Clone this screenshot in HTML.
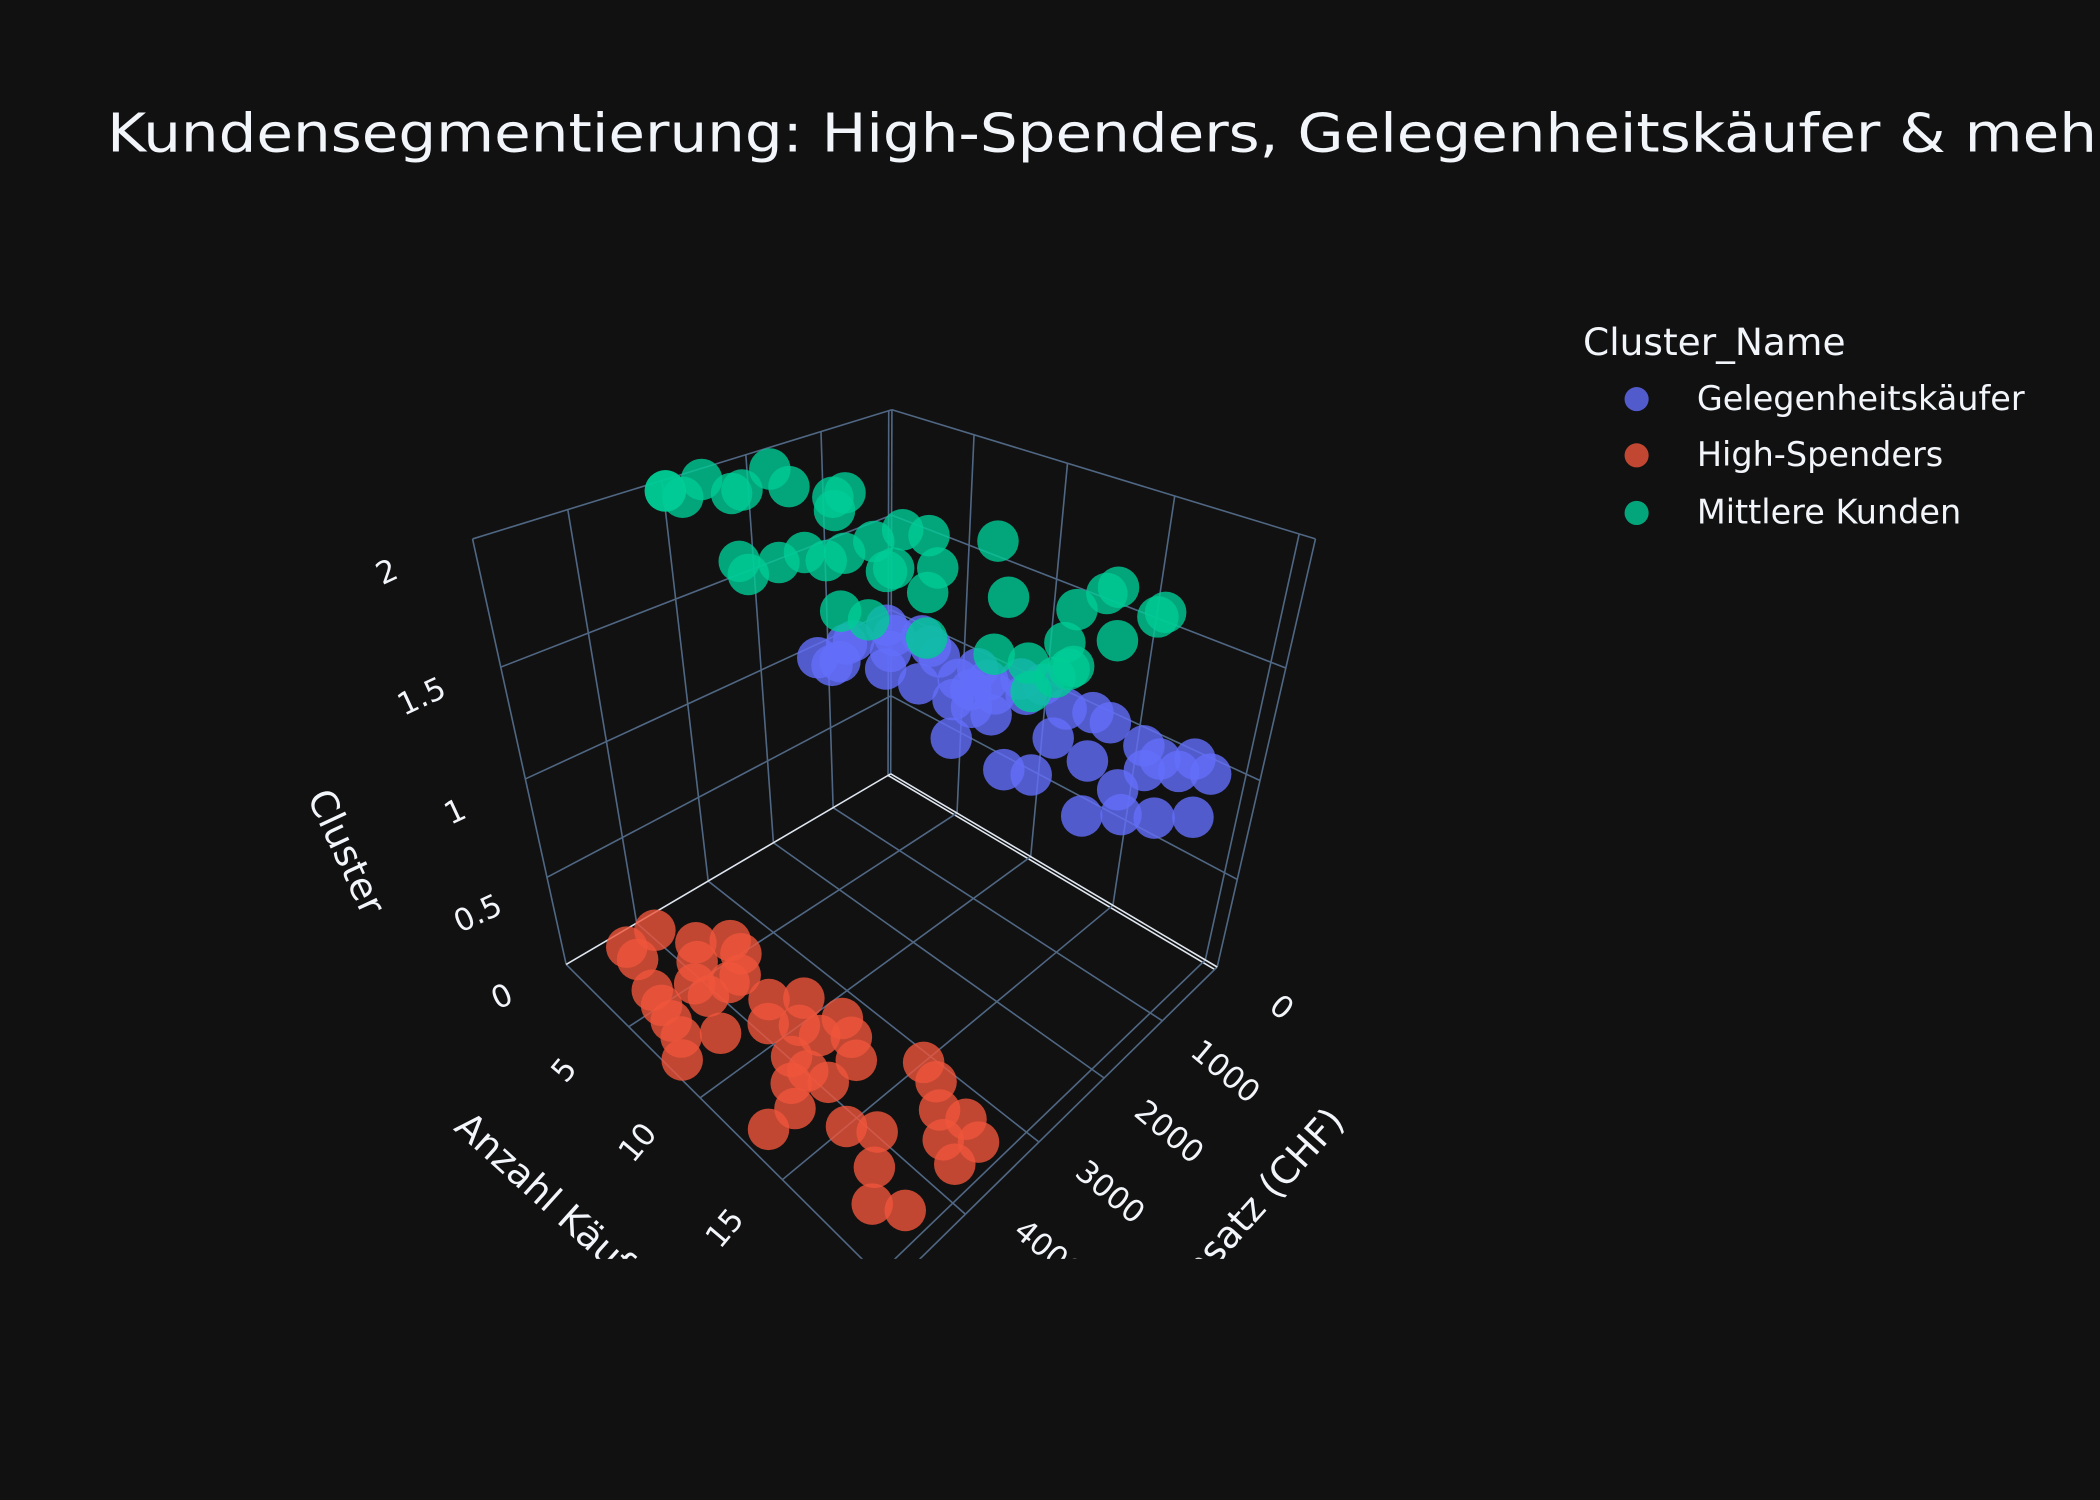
<!DOCTYPE html>
<html><head><meta charset="utf-8">
<style>
html,body{margin:0;padding:0;background:#111111;}
svg{display:block;}
text{font-family:"DejaVu Sans","Liberation Sans",sans-serif;fill:#f2f5fa;}
</style></head>
<body>
<svg id="chart" width="2100" height="1500" viewBox="0 0 1568 1120" preserveAspectRatio="none" xmlns="http://www.w3.org/2000/svg">
<rect x="0" y="0" width="1568" height="1120" fill="#111111"/>
<defs><clipPath id="sceneClip"><rect x="0" y="140" width="1160" height="800"/></clipPath></defs>
<text x="80" y="113" font-size="40" textLength="1504" lengthAdjust="spacingAndGlyphs">Kundensegmentierung: High-Spenders, Gelegenheitskäufer &amp; mehr</text>
<g id="scene" clip-path="url(#sceneClip)">
<g id="grid"></g>
<g id="points"></g>
<g font-size="23">
<text transform="translate(292,434) rotate(-25)" text-anchor="middle">2</text>
<text transform="translate(318,527) rotate(-25)" text-anchor="middle">1.5</text>
<text transform="translate(343,613) rotate(-25)" text-anchor="middle">1</text>
<text transform="translate(360,689) rotate(-25)" text-anchor="middle">0.5</text>
<text transform="translate(378,751) rotate(-25)" text-anchor="middle">0</text>
</g>
<g font-size="23">
<text transform="translate(427,804) rotate(-50)" text-anchor="middle">5</text>
<text transform="translate(482,858) rotate(-50)" text-anchor="middle">10</text>
<text transform="translate(547,922) rotate(-50)" text-anchor="middle">15</text>
</g>
<g font-size="23">
<text transform="translate(952,758) rotate(40)" text-anchor="middle">0</text>
<text transform="translate(910,806) rotate(40)" text-anchor="middle">1000</text>
<text transform="translate(868,851) rotate(40)" text-anchor="middle">2000</text>
<text transform="translate(824,896) rotate(40)" text-anchor="middle">3000</text>
<text transform="translate(778,940) rotate(40)" text-anchor="middle">4000</text>
</g>
<text font-size="28" transform="translate(250,640) rotate(65)" text-anchor="middle">Cluster</text>
<text font-size="28" transform="translate(338,843) rotate(42)" text-anchor="start">Anzahl Käufe</text>
<text font-size="28" transform="translate(1005,838) rotate(-48)" text-anchor="end">Umsatz (CHF)</text>
</g>
<g>
<text x="1182" y="265" font-size="28">Cluster_Name</text>
<g>
<circle cx="1222" cy="298" r="9" fill="#636efa" fill-opacity="0.8"/>
<text x="1267" y="306" font-size="25">Gelegenheitskäufer</text></g>
<g>
<circle cx="1222" cy="340" r="9" fill="#EF553B" fill-opacity="0.8"/>
<text x="1267" y="348" font-size="25">High-Spenders</text></g>
<g>
<circle cx="1222" cy="383" r="9" fill="#00cc96" fill-opacity="0.8"/>
<text x="1267" y="391" font-size="25">Mittlere Kunden</text></g>
</g>
</svg>
<script>
// ---- data ----
const redX = [1,1,2,3,4,5,4,5,5,4,6,6,6,6,8,9,9,10,11,12,7,8,11,12,13,12,13,13,15,16,15,16,17,18,18,17,18,19,19,19,11,13,8];
const redY = [4290,3920,4310,3710,3420,3460,3870,4080,4500,4450,4550,4080,3810,3660,4290,3870,3390,3660,3290,3390,4600,4760,3970,4180,4660,3970,4340,3920,4130,3970,3100,3180,3390,3290,3600,4240,4500,4340,3710,3390,3600,3550,3660];
const redZ = 0;
const blueX = [1,1,1,2,2,1,2,3,3,4,4,6,5,7,7,8,8,9,9,10,9,10,10,13,14,13,15,17,12,13,14,16,17,18,17,19,17,18,18,19,20,10,8];
const blueY = [1370,810,925,1370,1250,270,385,680,160,270,1000,970,380,595,270,380,660,540,100,20,920,885,1500,1540,1420,770,850,1590,240,100,130,240,590,1320,1030,1150,320,370,80,190,890,310,945];
const blueZ = 1;
const greenX = [1,1,2,1,3,3,2,4,8,9,7,6,6,10,10,10,13,12,12,14,11,13,14,16,18,13,16,19,19,18,20,18,18,20,20,20,20,20,20,10,9,9];
const greenY = [3130,3130,3110,2720,2740,2620,2090,2260,3600,3390,2350,2150,2000,3100,2900,2570,3610,2900,2820,3560,2160,2570,2940,3460,3300,1840,2570,3230,2830,2370,3100,2000,1850,2050,2550,3050,1950,3250,3500,2230,3120,3700];
const greenZ = 2;
const xTicks = [5,10,15,20];
const yTicks = [0,1000,2000,3000,4000];
const zTicks = [0.5,1,1.5,2];
const xRange = [0,20.6], yRange = [-50,4900], zRange = [0,2];

// ---- projection (fitted camera) ----
const fitPts = [
 [[0,0,0],[665,579]],[[1,0,0],[909,721]],[[0,1,0],[425,718]],
 [[0,0,1],[666,305]],[[1,0,1],[982,403]],[[0,1,1],[353,403]],
 [[5/20.6,1,0],[466,768]],[[10/20.6,1,0],[522,820]],[[15/20.6,1,0],[586,881]]
];
function solveP(){
  const A=[],b=[];
  fitPts.forEach(([[u,v,w],[X,Y]])=>{
    A.push([u,v,w,1,0,0,0,0,-X*u,-X*v,-X*w]);b.push(X);
    A.push([0,0,0,0,u,v,w,1,-Y*u,-Y*v,-Y*w]);b.push(Y);
  });
  const n=11,M=[];
  for(let i=0;i<n;i++){M.push([]);for(let j=0;j<=n;j++){let s=0;for(let k=0;k<A.length;k++)s+=A[k][i]*(j<n?A[k][j]:b[k]);M[i].push(s);}}
  for(let i=0;i<n;i++){let p=i;for(let r=i+1;r<n;r++)if(Math.abs(M[r][i])>Math.abs(M[p][i]))p=r;[M[i],M[p]]=[M[p],M[i]];
    for(let r=0;r<n;r++){if(r===i)continue;const f=M[r][i]/M[i][i];for(let c=i;c<=n;c++)M[r][c]-=f*M[i][c];}}
  return M.map((row,i)=>row[n]/row[i]);
}
const P=solveP();
function proj(u,v,w){const d=P[8]*u+P[9]*v+P[10]*w+1;return [(P[0]*u+P[1]*v+P[2]*w+P[3])/d,(P[4]*u+P[5]*v+P[6]*w+P[7])/d,d];}
const nx=x=>(x-xRange[0])/(xRange[1]-xRange[0]);
const ny=y=>(y-yRange[0])/(yRange[1]-yRange[0]);
const nz=z=>(z-zRange[0])/(zRange[1]-zRange[0]);
const NS="http://www.w3.org/2000/svg";
const grid=document.getElementById('grid');
function seg(a,b,color,name){
  const p=proj(...a),q=proj(...b);
  const l=document.createElementNS(NS,'line');
  l.setAttribute('x1',p[0]);l.setAttribute('y1',p[1]);l.setAttribute('x2',q[0]);l.setAttribute('y2',q[1]);
  l.setAttribute('stroke',color);l.setAttribute('stroke-width','1.2');
  
  
  grid.appendChild(l);
}
const G='#506784',W='#dfe6ef';
yTicks.forEach(t=>{const v=ny(t);seg([0,v,0],[0,v,1],G,'y-gridline-wall');seg([0,v,0],[1,v,0],t===0?W:G,'y-gridline-floor');});
xTicks.forEach(t=>{const u=nx(t);seg([u,0,0],[u,0,1],G,'x-gridline-wall');seg([u,0,0],[u,1,0],G,'x-gridline-floor');});
zTicks.forEach(t=>{const w=nz(t);seg([0,0,w],[0,1,w],G,'z-gridline-left-wall');seg([0,0,w],[1,0,w],G,'z-gridline-right-wall');});
[[[0,0,0],[0,0,1]],[[0,1,0],[0,1,1]],[[1,0,0],[1,0,1]],[[0,1,0],[1,1,0]],[[1,0,0],[1,1,0]]].forEach(e=>seg(e[0],e[1],G,'box-edge'));
seg([0,0,0],[0,1,0],W,'zero-line');seg([0,0,0],[1,0,0],W,'zero-line');

// ---- markers ----
const series=[
 {xs:blueX,ys:blueY,z:blueZ,c:'#636efa',n:'point-gelegenheitskaeufer'},
 {xs:redX,ys:redY,z:redZ,c:'#EF553B',n:'point-high-spenders'},
 {xs:greenX,ys:greenY,z:greenZ,c:'#00cc96',n:'point-mittlere-kunden'}
];
const all=[];
series.forEach(s=>s.xs.forEach((x,i)=>{const p=proj(nx(x),ny(s.ys[i]),nz(s.z));all.push({p,c:s.c,n:s.n});}));
all.sort((a,b)=>b.p[2]-a.p[2]);
const pg=document.getElementById('points');
all.forEach(o=>{
  const c=document.createElementNS(NS,'circle');
  c.setAttribute('cx',o.p[0]);c.setAttribute('cy',o.p[1]);c.setAttribute('r','15.5');
  c.setAttribute('fill',o.c);c.setAttribute('fill-opacity','0.8');
  
  
  pg.appendChild(c);
});
</script>
</body></html>
